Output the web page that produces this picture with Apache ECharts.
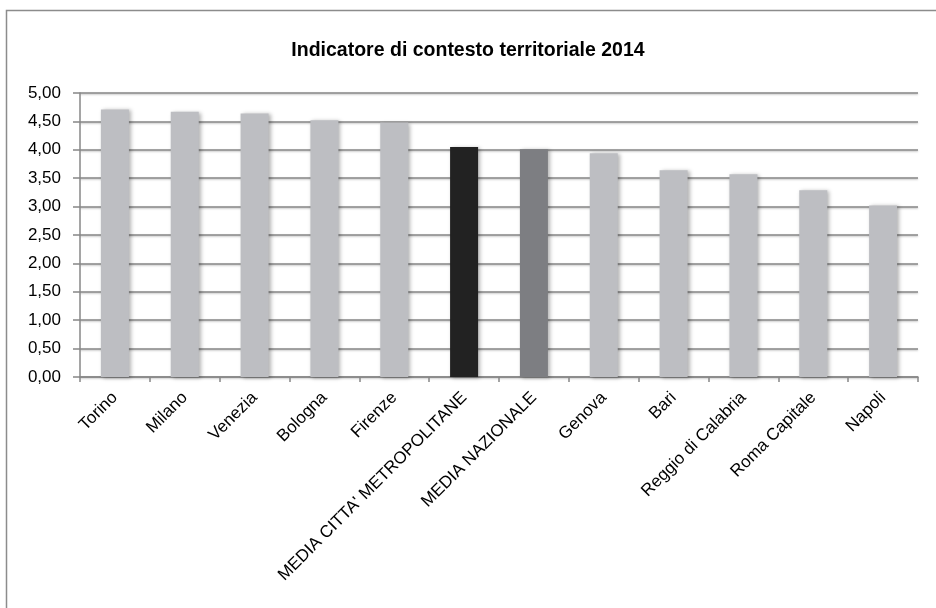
<!DOCTYPE html>
<html><head><meta charset="utf-8">
<script src="https://cdn.jsdelivr.net/npm/echarts@6/dist/echarts.min.js"></script>
<style>html,body{margin:0;padding:0;background:#fff}#c{width:936px;height:608px}</style>
</head><body><div id="c"></div>
<script>
const categories = ["Torino","Milano","Venezia","Bologna","Firenze","MEDIA CITTA' METROPOLITANE","MEDIA NAZIONALE","Genova","Bari","Reggio di Calabria","Roma Capitale","Napoli"];
const values = [4.71,4.67,4.64,4.52,4.48,4.05,4.01,3.94,3.64,3.57,3.29,3.02];
const barColors = ["#bdbec2","#bdbec2","#bdbec2","#bdbec2","#bdbec2","#222222","#7d7e82","#bdbec2","#bdbec2","#bdbec2","#bdbec2","#bdbec2"];
const titleText = "Indicatore di contesto territoriale 2014";
const yMin = 0, yMax = 5, yStep = 0.5;

const FF = 'Liberation Sans, Arial, sans-serif';
const chart = echarts.init(document.getElementById('c'), null, {renderer:'canvas'});
chart.setOption({
  animation:false,
  backgroundColor:'#fff',
  textStyle:{fontFamily:FF},
  graphic:[{type:'rect',shape:{x:6.5,y:10.5,width:940,height:620},style:{fill:'none',stroke:'#8c8c8c',lineWidth:1.5},z:-1}],
  title:{text:titleText,left:'center',top:36,textStyle:{fontSize:19.5,fontWeight:'bold',color:'#000',fontFamily:FF}},
  grid:{left:80,right:18,top:93,bottom:231,containLabel:false},
  xAxis:{type:'category',data:categories,
    axisLine:{lineStyle:{color:'#878787',width:1.5}},
    axisTick:{show:true,alignWithLabel:false,length:5,lineStyle:{color:'#878787',width:1.5}},
    axisLabel:{rotate:45,interval:0,fontSize:17,color:'#000',margin:18,fontFamily:FF}},
  yAxis:{type:'value',min:yMin,max:yMax,interval:yStep,
    axisLine:{show:true,lineStyle:{color:'#878787',width:1.5}},
    axisTick:{show:true,inside:false,length:7,lineStyle:{color:'#878787',width:1.5}},
    splitLine:{show:true,lineStyle:{color:'#878787',width:1.5,shadowColor:'rgba(0,0,0,0.25)',shadowBlur:2,shadowOffsetY:1}},
    axisLabel:{fontSize:17,color:'#000',margin:19,fontFamily:FF,
      formatter:v=>v.toFixed(2).replace('.',',')}},
  series:[{type:'bar',barWidth:28,
    data:values.map((v,i)=>({value:v,itemStyle:{color:barColors[i],shadowColor:'rgba(0,0,0,0.3)',shadowBlur:4,shadowOffsetX:2,shadowOffsetY:1}}))}]
});
</script></body></html>
